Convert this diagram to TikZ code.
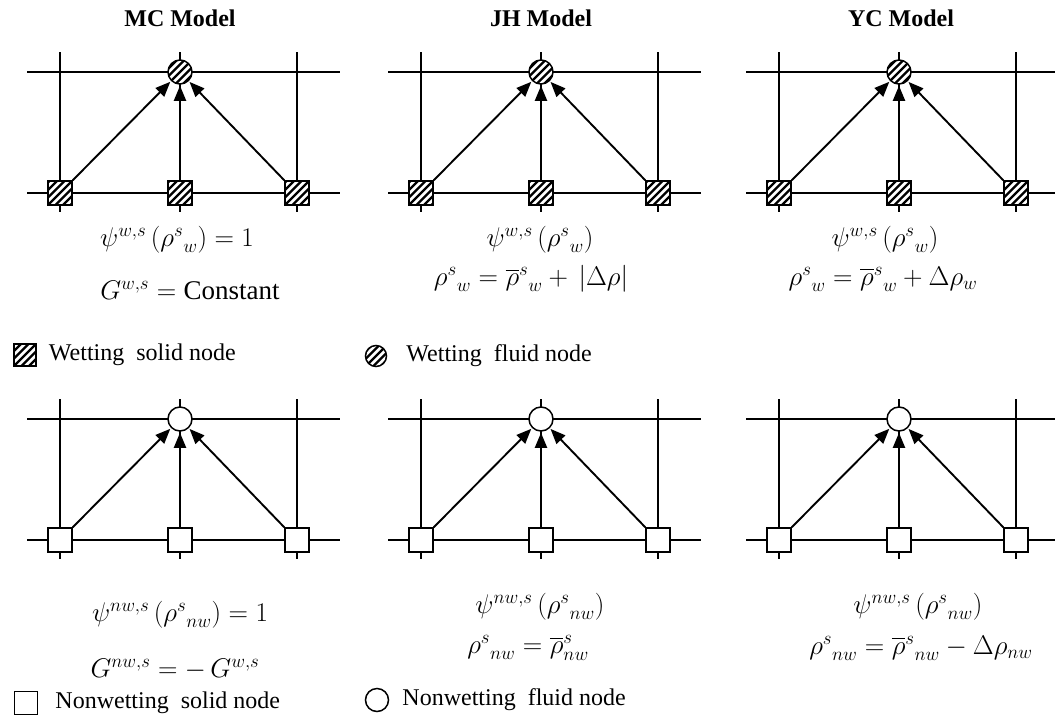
\RequirePackage{fix-cm}
\documentclass[tikz,border=0pt]{standalone}
\usepackage{amsmath, amssymb}
\usepackage{fontspec}
\setmainfont{Liberation Serif}
\usetikzlibrary{arrows.meta, positioning}

\begin{document}
\begin{tikzpicture}[x=1pt, y=-1pt,
    gridline/.style={line width=1.8pt},
    hatch/.style={path picture={
        \foreach \k in {-4,...,4}
            \draw[line width=2.3pt] ([shift={(\k*7.5pt-20pt,-20pt)}]path picture bounding box.center) -- ++(40pt,40pt);
    }},
    nwsolidnode/.style={draw, fill=white, line width=1.5pt, minimum size=24pt, inner sep=0pt},
    wsolidnode/.style={nwsolidnode, hatch},
    nwfluidnode/.style={circle, draw, fill=white, line width=1.5pt, minimum size=24pt, inner sep=0pt},
    wfluidnode/.style={nwfluidnode, hatch},
    feed/.style={line width=1.9pt, shorten >=1pt, -{Triangle[length=15pt, width=12pt]}},
    modeltitle/.style={font=\fontsize{24}{28}\selectfont\bfseries},
    formula/.style={font=\fontsize{27}{32}\selectfont, inner sep=0pt},
    legendtext/.style={font=\fontsize{24}{28}\selectfont, inner sep=1pt}
]
    \useasboundingbox (0,0) rectangle (1055,721);

    % titles
    \node[modeltitle] (mc) at (180,18) {MC Model};
    \node[modeltitle] (jh) at (541,18) {JH Model};
    \node[modeltitle] (yc) at (901,18) {YC Model};

    % six lattices: centre x / top line y / fluid / solid / name
    \foreach \cx/\cy/\fl/\sd/\id in {180/72/wfluidnode/wsolidnode/mcw,
                                     541/72/wfluidnode/wsolidnode/jhw,
                                     899/72/wfluidnode/wsolidnode/ycw,
                                     180/419/nwfluidnode/nwsolidnode/mcn,
                                     541/419/nwfluidnode/nwsolidnode/jhn,
                                     899/419/nwfluidnode/nwsolidnode/ycn} {
        \draw[gridline] (\cx-153,\cy) -- (\cx+160,\cy);
        \draw[gridline] (\cx-153,\cy+121) -- (\cx+160,\cy+121);
        \foreach \dx in {-120,0,117}
            \draw[gridline] (\cx+\dx,\cy-20) -- (\cx+\dx,\cy+140);
        \node[\fl] (\id-f) at (\cx,\cy) {};
        \node[\sd] (\id-l) at (\cx-120,\cy+121) {};
        \node[\sd] (\id-m) at (\cx,\cy+121) {};
        \node[\sd] (\id-r) at (\cx+117,\cy+121) {};
        \draw[feed] (\id-l.north east) -- (\id-f);
        \draw[feed] (\id-m) -- (\id-f);
        \draw[feed] (\id-r.north west) -- (\id-f);
    }

    % wetting formulas
    \node[formula] (mc-psi) at (177,240) {$\psi^{w,s}\left({\rho^{s}}_{w}\right) = 1$};
    \node[formula] (mc-g) at (190,290) {$G^{w,s} = \mathrm{Constant}$};
    \node[formula] (jh-psi) at (540,240) {$\psi^{w,s}\left({\rho^{s}}_{w}\right)$};
    \node[formula] (jh-rho) at (531,279) {${\rho^{s}}_{w} = {\overline{\rho}^{s}}_{w} + \,|\Delta\rho|$};
    \node[formula] (yc-psi) at (885,240) {$\psi^{w,s}\left({\rho^{s}}_{w}\right)$};
    \node[formula] (yc-rho) at (883,279) {${\rho^{s}}_{w} = {\overline{\rho}^{s}}_{w} + \Delta\rho_{w}$};

    % nonwetting formulas
    \node[formula] (mcn-psi) at (180,615) {$\psi^{nw,s}\left({\rho^{s}}_{nw}\right) = 1$};
    \node[formula] (mcn-g) at (175,669) {$G^{nw,s} = -\,G^{w,s}$};
    \node[formula] (jhn-psi) at (540,607) {$\psi^{nw,s}\left({\rho^{s}}_{nw}\right)$};
    \node[formula] (jhn-rho) at (528,648) {${\rho^{s}}_{nw} = \overline{\rho}^{s}_{nw}$};
    \node[formula] (ycn-psi) at (918,607) {$\psi^{nw,s}\left({\rho^{s}}_{nw}\right)$};
    \node[formula] (ycn-rho) at (921,648) {${\rho^{s}}_{nw} = {\overline{\rho}^{s}}_{nw} - \Delta\rho_{nw}$};

    % legend
    \node[wsolidnode, minimum size=22pt] (lg-ws) at (25,355) {};
    \node[legendtext, right=11pt of lg-ws] (lg-ws-t) {Wetting~ solid node};
    \node[wfluidnode, minimum size=21pt] (lg-wf) at (376,356) {};
    \node[legendtext, right=18pt of lg-wf] (lg-wf-t) {Wetting~ fluid node};
    \node[nwsolidnode, minimum size=23pt] (lg-ns) at (26,703) {};
    \node[legendtext, right=16pt of lg-ns] (lg-ns-t) {Nonwetting~ solid node};
    \node[nwfluidnode, minimum size=23pt] (lg-nf) at (377,700) {};
    \node[legendtext, right=12pt of lg-nf] (lg-nf-t) {Nonwetting~ fluid node};
\end{tikzpicture}
\end{document}
